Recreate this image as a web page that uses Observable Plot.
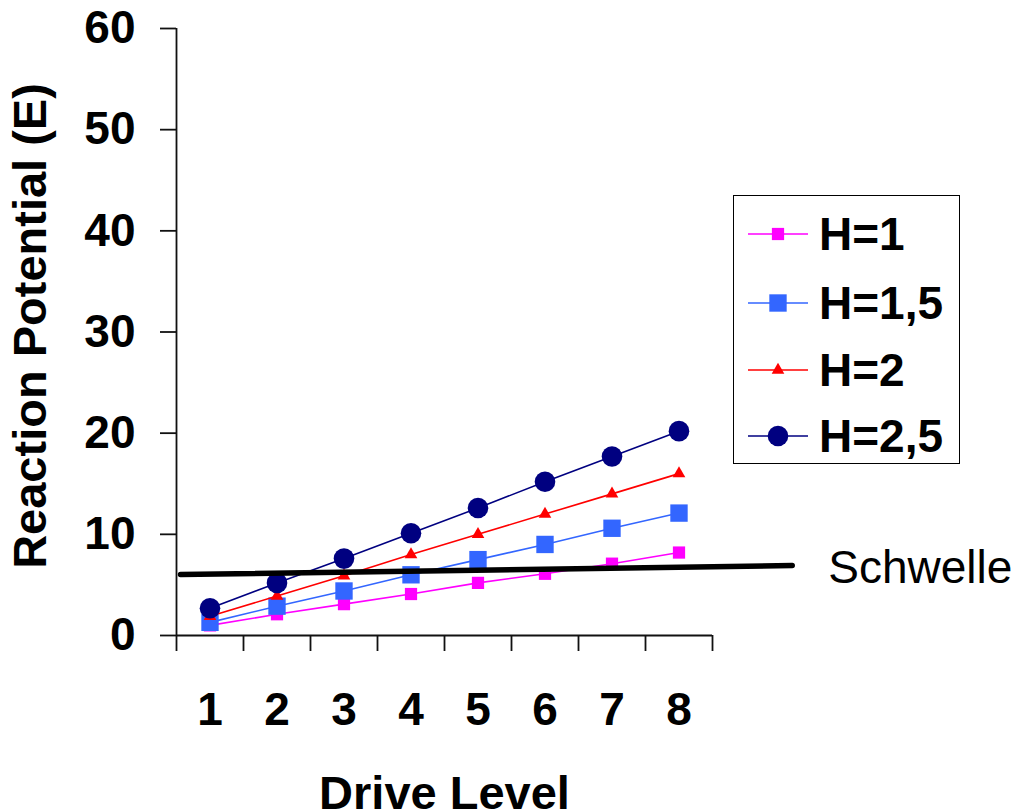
<!DOCTYPE html>
<html>
<head>
<meta charset="utf-8">
<script src="https://cdn.jsdelivr.net/npm/d3@7"></script>
<script src="https://cdn.jsdelivr.net/npm/@observablehq/plot@0.6"></script>
<style>
  html, body { margin: 0; padding: 0; background: #fff; }
  #wrap { position: relative; width: 1019px; height: 812px; overflow: hidden; font-family: "Liberation Sans", Arial, sans-serif; }
  #legend { position: absolute; left: 733px; top: 195px; width: 227px; height: 269px; border: 1px solid #000; background: #fff; box-sizing: border-box; }
  .entry { position: absolute; left: 0; height: 60px; display: flex; align-items: center; }
  .entry svg { display: block; }
  .entry span { font-weight: bold; font-size: 46px; color: #000; margin-left: 10px; line-height: 1; }
</style>
</head>
<body>
<div id="wrap"><div id="chart"></div><div id="legend"></div></div>
<script>
// ---- data ----
const driveLevels = [1, 2, 3, 4, 5, 6, 7, 8];
const seriesNames = ["H=1", "H=1,5", "H=2", "H=2,5"];
const h1  = [1.0, 2.1, 3.1, 4.1, 5.2, 6.1, 7.1, 8.2];
const h15 = [1.3, 2.9, 4.4, 6.0, 7.5, 9.0, 10.6, 12.1];
const h2  = [1.9, 3.9, 5.9, 8.0, 10.0, 12.0, 14.0, 16.0];
const h25 = [2.7, 5.2, 7.6, 10.1, 12.6, 15.2, 17.7, 20.2];
const seriesColors = ["#FF00FF", "#3366FF", "#FF0000", "#000080"];
const seriesSymbols = ["square", "square", "triangle", "circle"];
const seriesR = [6.9, 9.8, 4.7, 10.3];
const yTicks = [0, 10, 20, 30, 40, 50, 60];
const xBoundaries = [0.5, 1.5, 2.5, 3.5, 4.5, 5.5, 6.5, 7.5, 8.5];
const thresholdX = [0.56, 9.69];
const thresholdY = [6.03, 6.92];
const thresholdLabel = "Schwelle";
const yTitle = "Reaction Potential (E)";
const xTitle = "Drive Level";

const allValues = [h1, h15, h2, h25];
const rows = [];
allValues.forEach((vals, s) => vals.forEach((v, i) => rows.push({series: seriesNames[s], x: driveLevels[i], y: v})));
const threshold = thresholdX.map((x, i) => ({x, y: thresholdY[i]}));

const seriesMarks = [];
seriesNames.forEach((name, s) => {
  const d = rows.filter(r => r.series === name);
  seriesMarks.push(Plot.line(d, {x: "x", y: "y", stroke: seriesColors[s], strokeWidth: 1.6}));
  seriesMarks.push(Plot.dot(d, {x: "x", y: "y", symbol: seriesSymbols[s], r: seriesR[s], fill: seriesColors[s], stroke: "none"}));
});

const chart = Plot.plot({
  width: 1019,
  height: 812,
  marginLeft: 176,
  marginRight: 307,
  marginTop: 28,
  marginBottom: 177,
  style: {fontFamily: "'Liberation Sans', Arial, sans-serif", color: "#000", background: "#fff", overflow: "visible"},
  x: {domain: [0.5, 8.5], axis: null},
  y: {domain: [0, 60], axis: null},
  marks: [
    Plot.ruleX([0.5], {y1: 0, y2: 60, stroke: "#111", strokeWidth: 1.8}),
    Plot.ruleY([0], {x1: 0.5, x2: 8.5, stroke: "#111", strokeWidth: 1.8}),
    Plot.axisY({ticks: yTicks, label: null, tickSize: 16, tickPadding: 25, fontSize: 46, fontWeight: "bold", stroke: "#111", strokeWidth: 1.8, tickFormat: d => String(d)}),
    Plot.axisX({ticks: xBoundaries, label: null, tickSize: 16, stroke: "#111", strokeWidth: 1.8, tickFormat: () => ""}),
    Plot.axisX({ticks: driveLevels, label: null, tickSize: 0, tickPadding: 57, fontSize: 46, fontWeight: "bold", tickFormat: d => String(d)}),
    Plot.text([yTitle], {frameAnchor: "left", textAnchor: "middle", lineAnchor: "middle", rotate: -90, dx: -146, dy: -6, fontSize: 47, fontWeight: "bold", fill: "#000"}),
    Plot.text([xTitle], {frameAnchor: "bottom", textAnchor: "middle", lineAnchor: "middle", dy: 158, fontSize: 47, fontWeight: "bold", fill: "#000"}),
    ...seriesMarks,
    Plot.line(threshold, {x: "x", y: "y", stroke: "#000", strokeWidth: 5.5}),
    Plot.text([threshold[threshold.length - 1]], {x: "x", y: "y", text: () => thresholdLabel, dx: 36, dy: 3, textAnchor: "start", lineAnchor: "middle", fontSize: 46, fill: "#000"})
  ]
});
document.getElementById("chart").appendChild(chart);

// ---- legend ----
const legend = document.getElementById("legend");
const entryCenters = [38, 107, 174, 240];
seriesNames.forEach((name, s) => {
  const div = document.createElement("div");
  div.className = "entry";
  div.style.top = (entryCenters[s] - 30) + "px";
  const svg = d3.create("svg").attr("width", 75).attr("height", 60);
  svg.append("line").attr("x1", 14).attr("x2", 74).attr("y1", 30).attr("y2", 30).attr("stroke", seriesColors[s]).attr("stroke-width", 1.6);
  const size = Math.PI * seriesR[s] * seriesR[s];
  const sym = {square: d3.symbolSquare, triangle: d3.symbolTriangle, circle: d3.symbolCircle}[seriesSymbols[s]];
  svg.append("path").attr("d", d3.symbol(sym, size)()).attr("transform", "translate(44,30)").attr("fill", seriesColors[s]);
  div.appendChild(svg.node());
  const span = document.createElement("span");
  span.textContent = name;
  div.appendChild(span);
  legend.appendChild(div);
});
</script>
</body>
</html>
